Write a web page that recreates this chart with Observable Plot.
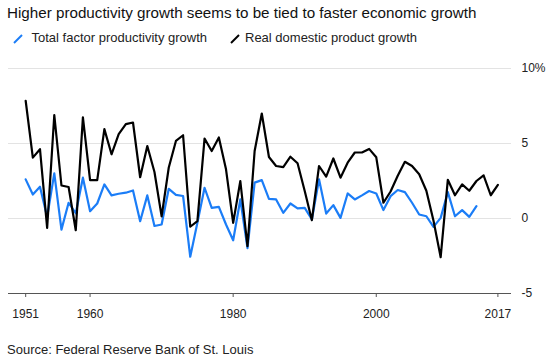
<!DOCTYPE html>
<html>
<head>
<meta charset="utf-8">
<script src="https://cdn.jsdelivr.net/npm/d3@7"></script>
<script src="https://cdn.jsdelivr.net/npm/@observablehq/plot@0.6"></script>
<style>
  html, body { margin: 0; padding: 0; background: #fff; }
  #wrap { position: relative; width: 550px; height: 357px; overflow: hidden;
          font-family: "Liberation Sans", Arial, Helvetica, sans-serif; color: #111; }
  .abs { position: absolute; white-space: nowrap; line-height: 1; }
  #title { left: 7px; top: 5.4px; font-size: 15.2px; color: #111; }
  .leg { top: 31px; font-size: 13px; color: #222; }
  #caption { left: 7px; top: 343px; font-size: 13px; color: #222; }
  #chart { position: absolute; left: 0; top: 55px; }
</style>
</head>
<body>
<div id="wrap">
  <div id="title" class="abs"></div>
  <svg class="abs" style="left:13px;top:34px" width="10" height="10"><line x1="1" y1="9" x2="9" y2="1" stroke="#1b7df7" stroke-width="2"/></svg>
  <div id="leg1" class="abs leg" style="left:31.5px"></div>
  <svg class="abs" style="left:229.5px;top:34px" width="10" height="10"><line x1="1" y1="9" x2="9" y2="1" stroke="#000" stroke-width="2"/></svg>
  <div id="leg2" class="abs leg" style="left:245px"></div>
  <div id="chart"></div>
  <div id="caption" class="abs"></div>
</div>
<script>
const titleText = "Higher productivity growth seems to be tied to faster economic growth";
const seriesNames = ["Total factor productivity growth", "Real domestic product growth"];
const sourceText = "Source: Federal Reserve Bank of St. Louis";

const firstYear = 1951;
// Real domestic product growth, %, 1951–2017
const gdpGrowth = [
  7.85, 4.06, 4.62, -0.63, 6.9, 2.2, 2.1, -0.78, 6.74, 2.56,
  2.56, 5.96, 4.28, 5.62, 6.29, 6.4, 2.75, 4.83, 3.1, 0.14,
  3.4, 5.17, 5.55, -0.55, -0.18, 5.33, 4.5, 5.4, 3.28, -0.29,
  2.5, -1.85, 4.5, 7.0, 4.1, 3.5, 3.43, 4.12, 3.68, 1.83,
  -0.11, 3.5, 2.79, 4.0, 2.72, 3.72, 4.4, 4.4, 4.64, 4.08,
  1.05, 1.8, 2.85, 3.78, 3.5, 2.95, 1.85, -0.15, -2.58, 2.58,
  1.55, 2.27, 1.85, 2.5, 2.88, 1.55, 2.24
];
// Total factor productivity growth, %, 1951–2014
const tfpGrowth = [
  2.61, 1.6, 2.12, 0.1, 3.01, -0.74, 1.05, 0.35, 2.72, 0.49,
  1.0, 2.27, 1.54, 1.65, 1.72, 1.87, -0.18, 1.54, -0.5, -0.4,
  1.98, 1.57, 1.5, -2.55, -0.29, 2.05, 0.71, 0.78, -0.4, -1.45,
  1.27, -1.97, 2.39, 2.56, 1.31, 1.27, 0.38, 1.0, 0.67, 0.71,
  -0.07, 2.61, 0.33, 0.89, 0.04, 1.67, 1.27, 1.54, 1.83, 1.67,
  0.56, 1.49, 1.9, 1.76, 1.05, 0.27, 0.15, -0.56, 0.04, 1.76,
  0.15, 0.56, 0.11, 0.82
];
const xTicks = [1951, 1960, 1980, 2000, 2017];
const yTicks = [-5, 0, 5, 10];
const colors = ["#1b7df7", "#000000"];

document.getElementById("title").textContent = titleText;
document.getElementById("leg1").textContent = seriesNames[0];
document.getElementById("leg2").textContent = seriesNames[1];
document.getElementById("caption").textContent = sourceText;

const gdpRows = gdpGrowth.map((v, i) => ({year: firstYear + i, value: v}));
const tfpRows = tfpGrowth.map((v, i) => ({year: firstYear + i, value: v}));

const chart = Plot.plot({
  width: 550,
  height: 270,
  marginTop: 13,
  marginBottom: 32,
  marginLeft: 8,
  marginRight: 39,
  x: {domain: [1948.6, 2018.9]},
  y: {domain: [-5, 10]},
  style: {fontFamily: '"Liberation Sans", Arial, Helvetica, sans-serif', fontSize: "12px", color: "#222", background: "transparent", overflow: "visible"},
  marks: [
    Plot.gridY([0, 5, 10], {stroke: "#e3e3e3", strokeOpacity: 1}),
    Plot.ruleY([-5], {stroke: "#555", strokeWidth: 1}),
    Plot.axisX({ticks: xTicks, tickFormat: d => String(d), tickSize: 4, tickPadding: 12, stroke: "#555", label: null}),
    Plot.axisY({anchor: "right", ticks: yTicks, tickSize: 0, tickPadding: 10, tickFormat: d => d === 10 ? "10%" : String(d), label: null}),
    Plot.line(tfpRows, {x: "year", y: "value", stroke: colors[0], strokeWidth: 2.2}),
    Plot.line(gdpRows, {x: "year", y: "value", stroke: colors[1], strokeWidth: 2.2})
  ]
});
document.getElementById("chart").appendChild(chart);
</script>
</body>
</html>
